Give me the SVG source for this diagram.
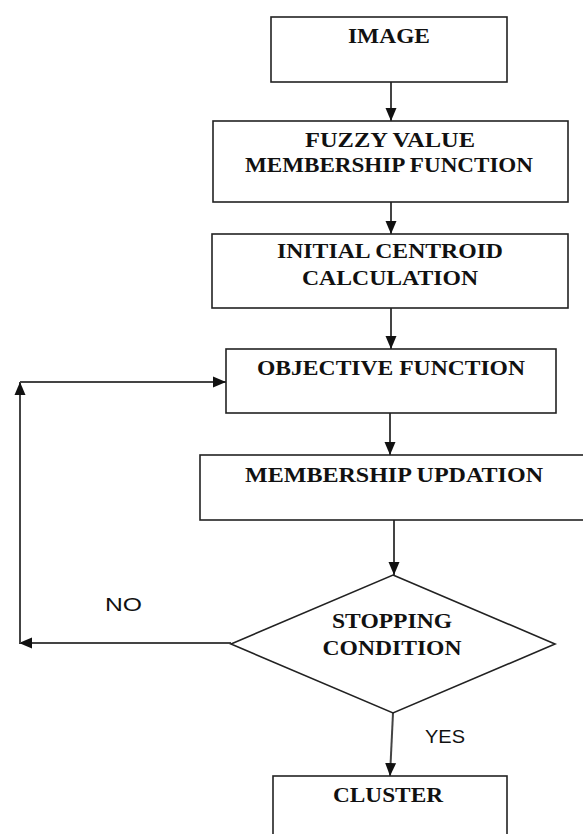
<svg xmlns="http://www.w3.org/2000/svg" width="583" height="834" viewBox="0 0 583 834">
<style>
.box{fill:#fff;stroke:#222;stroke-width:1.6}
.t{font-family:"Liberation Serif","Times New Roman",serif;font-weight:bold;font-size:21px;fill:#111;text-anchor:middle}
.lbl{font-family:"Liberation Sans",Arial,sans-serif;font-size:19px;fill:#111}
.c{fill:none;stroke:#444;stroke-width:2}
</style>
<defs>
<marker id="ah" markerUnits="userSpaceOnUse" markerWidth="13" markerHeight="13" viewBox="0 0 13 11" refX="13" refY="5.5" orient="auto">
<path d="M0,0 L13,5.5 L0,11 Z" fill="#111"/>
</marker>
</defs>
<rect width="583" height="834" fill="#fff"/>
<g id="connectors">
<line class="c" x1="391" y1="82" x2="391" y2="121" marker-end="url(#ah)"/>
<line class="c" x1="391" y1="202" x2="391" y2="234" marker-end="url(#ah)"/>
<line class="c" x1="391" y1="308" x2="391" y2="349" marker-end="url(#ah)"/>
<line class="c" x1="390" y1="413" x2="390" y2="455" marker-end="url(#ah)"/>
<line class="c" x1="394" y1="520" x2="394" y2="575" marker-end="url(#ah)"/>
<line class="c" x1="393" y1="713" x2="390" y2="776" marker-end="url(#ah)"/>
<line class="c" x1="231" y1="643" x2="19" y2="643" marker-end="url(#ah)"/>
<line class="c" x1="20" y1="643" x2="20" y2="382" marker-end="url(#ah)"/>
<line class="c" x1="20" y1="382" x2="226" y2="382" marker-end="url(#ah)"/>
<text class="lbl" x="105" y="611" textLength="37" lengthAdjust="spacingAndGlyphs">NO</text>
<text class="lbl" x="425" y="743" textLength="40" lengthAdjust="spacingAndGlyphs">YES</text>
</g>
<g id="image">
<rect class="box" x="271" y="17" width="236" height="65"/>
<text class="t" x="389" y="43" textLength="82" lengthAdjust="spacingAndGlyphs">IMAGE</text>
</g>
<g id="fuzzy">
<rect class="box" x="213" y="121" width="355" height="81"/>
<text class="t" x="390" y="147" textLength="170" lengthAdjust="spacingAndGlyphs">FUZZY VALUE</text>
<text class="t" x="389" y="172" textLength="288" lengthAdjust="spacingAndGlyphs">MEMBERSHIP FUNCTION</text>
</g>
<g id="centroid">
<rect class="box" x="212" y="234" width="356" height="74"/>
<text class="t" x="390" y="258" textLength="226" lengthAdjust="spacingAndGlyphs">INITIAL CENTROID</text>
<text class="t" x="390" y="285" textLength="176" lengthAdjust="spacingAndGlyphs">CALCULATION</text>
</g>
<g id="objective">
<rect class="box" x="226" y="349" width="330" height="64"/>
<text class="t" x="391" y="375" textLength="268" lengthAdjust="spacingAndGlyphs">OBJECTIVE FUNCTION</text>
</g>
<g id="membership">
<rect class="box" x="200" y="455" width="400" height="65"/>
<text class="t" x="394" y="482" textLength="298" lengthAdjust="spacingAndGlyphs">MEMBERSHIP UPDATION</text>
</g>
<g id="stopping">
<polygon class="box" points="393,575 555,644 393,713 231,644"/>
<text class="t" x="392" y="628" textLength="120" lengthAdjust="spacingAndGlyphs">STOPPING</text>
<text class="t" x="392" y="655" textLength="139" lengthAdjust="spacingAndGlyphs">CONDITION</text>
</g>
<g id="cluster">
<rect class="box" x="273" y="776" width="234" height="80"/>
<text class="t" x="388" y="802" textLength="110" lengthAdjust="spacingAndGlyphs">CLUSTER</text>
</g>
</svg>
